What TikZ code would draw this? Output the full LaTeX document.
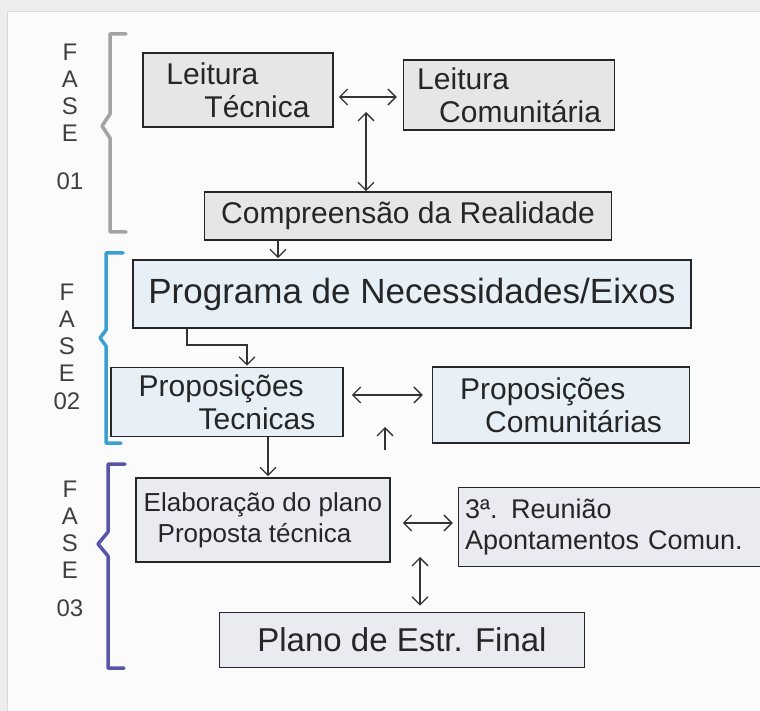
\documentclass[tikz,border=0pt]{standalone}
\usepackage{fontspec}
\setmainfont{Liberation Sans}
\usetikzlibrary{arrows.meta,positioning}
\definecolor{paper}{HTML}{FBFBFB}
\definecolor{shade1}{HTML}{E6E6E6}
\definecolor{shade2}{HTML}{E7F0F6}
\definecolor{shade3}{HTML}{EAEAF1}
\definecolor{fase1}{HTML}{A3A3A3}
\definecolor{fase2}{HTML}{3C9FD2}
\definecolor{fase3}{HTML}{5656A8}
\tikzstyle{box} = [draw=black!85, line width=1.6pt, inner sep=0pt, align=left, text=black!85]
\tikzset{
  line/.style ={draw=black!80, line width=1.3pt, ->, shorten >=1pt},
  phase/.style={align=center, inner sep=0pt, anchor=north, text=black!75,
                font=\fontsize{24}{27}\selectfont},
  bracket/.style={line width=3.5pt, line cap=round, line join=round}
}

\begin{document}
\begin{tikzpicture}[x=1pt,y=-1pt,>={Straight Barb[length=8pt,width=16pt]}]
  \useasboundingbox (0,0) rectangle (760,711);
  \fill[black!7] (0,0) rectangle (760,711);
  \filldraw[fill=paper, draw=black!15, line width=1pt] (7,12) rectangle (775,725);

  % fase 01
  \node[phase] (f1) at (70,44) {F\\A\\S\\E\\[21pt]01};
  \draw[bracket, fase1] (126,34) -- (110,34) -- (110,114) -- (102,126) -- (110,138) -- (110,232) -- (126,232);
  \node[box, fill=shade1, minimum width=190pt, minimum height=74pt,
        font=\fontsize{30}{33}\selectfont] (tec) at (238,90) {Leitura\\\hspace*{38pt}Técnica};
  \node[box, fill=shade1, minimum width=211pt, minimum height=70pt, right=69pt of tec, yshift=-5pt,
        font=\fontsize{30}{33}\selectfont] (com) {Leitura\\\hspace*{22pt}Comunitária};
  \node[box, fill=shade1, minimum width=407pt, minimum height=48pt,
        font=\fontsize{30}{33}\selectfont] (real) at (408,216) {Compreensão da Realidade};

  % fase 02
  \node[phase] (f2) at (67,284) {F\\A\\S\\E\\[1pt]02};
  \draw[bracket, fase2] (123,253) -- (106,253) -- (106,330) -- (100,338) -- (106,346) -- (106,443) -- (121,443);
  \node[box, fill=shade2, minimum width=558pt, minimum height=68pt,
        font=\fontsize{35}{38}\selectfont] (prog) at (412,294) {Programa de Necessidades/Eixos};
  \node[box, fill=shade2, minimum width=232pt, minimum height=69pt,
        font=\fontsize{30}{33}\selectfont] (ptec) at (227,402) {Proposições\\\hspace*{60pt}Tecnicas};
  \node[box, fill=shade2, minimum width=257pt, minimum height=76pt, right=88pt of ptec, yshift=-3pt,
        font=\fontsize{30}{33}\selectfont] (pcom) {Proposições\\\hspace*{25pt}Comunitárias};

  % fase 03
  \node[phase] (f3) at (70,481) {F\\A\\S\\E\\[11pt]03};
  \draw[bracket, fase3] (125,464) -- (108,464) -- (108,532) -- (98,544) -- (108,556) -- (108,668) -- (124,668);
  \node[box, fill=shade3, minimum width=254pt, minimum height=84pt,
        font=\fontsize{26}{31}\selectfont] (elab) at (263,520) {Elaboração do plano\\\hspace*{14pt}Proposta técnica};
  \node[box, fill=shade3, minimum width=313pt, minimum height=79pt, text width=300pt, right=67pt of elab, yshift=-7pt,
        font=\fontsize{27}{31}\selectfont] (reun) {3ª. Reunião\\Apontamentos Comun.};
  \node[box, fill=shade3, minimum width=365pt, minimum height=55pt,
        font=\fontsize{33}{36}\selectfont] (final) at (402,640) {Plano de Estr. Final};

  \coordinate (up1) at (366,112);
  \coordinate (x1) at (278,0);
  \coordinate (x2) at (187,0);
  \coordinate (knee) at (247,345);
  \coordinate (up2a) at (385,450);
  \coordinate (up2b) at (385,426);
  \coordinate (x3) at (268,0);
  \coordinate (up3) at (420,557);

  \begin{scope}[every path/.style=line]
    \path[<->, shorten <=5pt, shorten >=6pt] (tec.east |- 0,97) -- (com.west |- 0,97);
    \path[<->, shorten >=0pt] (up1) -- (up1 |- real.north);
    \path (real.south -| x1) -- (prog.north -| x1);
    \path (prog.south -| x2) |- (knee) -- (knee |- ptec.north);
    \path[<->, shorten <=8pt, shorten >=9pt] (ptec.east |- 0,395) -- (pcom.west |- 0,395);
    \path (up2a) -- (up2b);
    \path (ptec.south -| x3) -- (elab.north -| x3);
    \path[<->, shorten <=12pt, shorten >=5pt] (elab.east |- 0,523) -- (reun.west |- 0,523);
    \path[<->, shorten >=6pt] (up3) -- (up3 |- final.north);
  \end{scope}

\end{tikzpicture}
\end{document}
